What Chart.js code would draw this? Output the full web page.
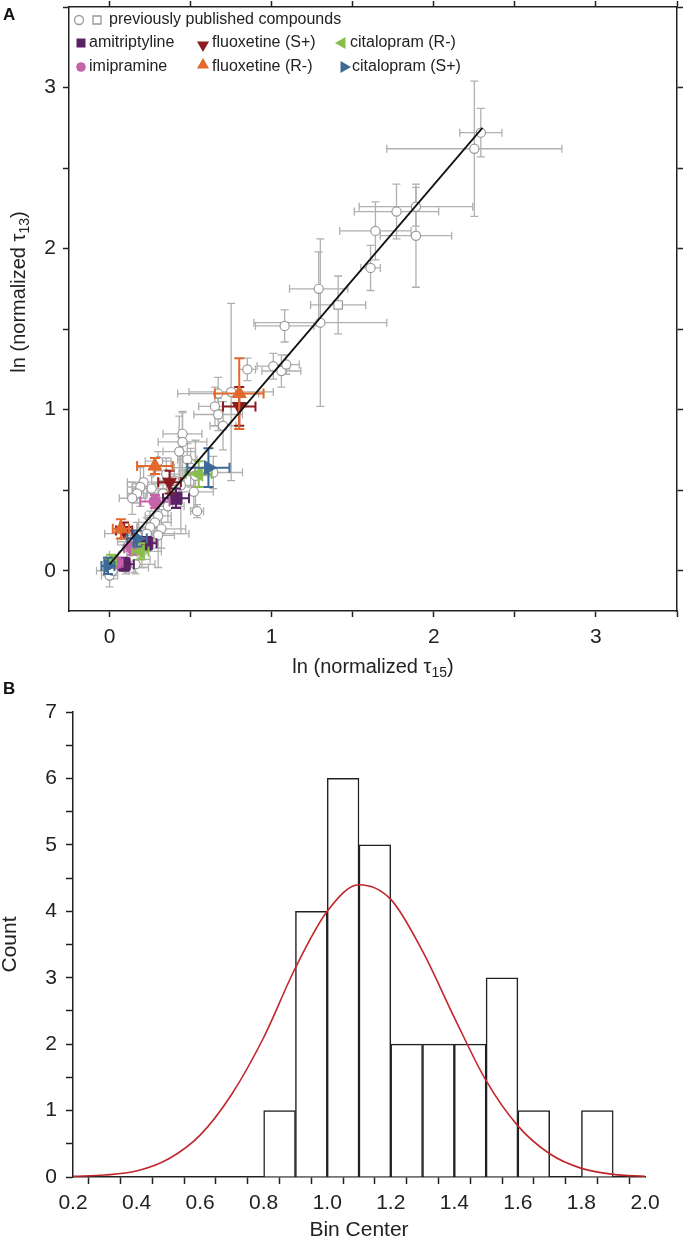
<!DOCTYPE html>
<html>
<head>
<meta charset="utf-8">
<script src="https://cdn.jsdelivr.net/npm/chart.js"></script>
<style>
  body { margin: 0; background: #fff; }
  .wrap { position: absolute; left: 0; }
  .tag { position: absolute; left: 3px; font: bold 17px "Liberation Sans", Arial, sans-serif; color: #111; }
</style>
</head>
<body>
<div class="wrap" style="top:0"><canvas id="chartA" width="683" height="680"></canvas></div>
<div class="wrap" style="top:680px"><canvas id="chartB" width="683" height="561"></canvas></div>
<div class="tag" style="top:5px">A</div>
<div class="tag" style="top:679px">B</div>
<script>
// each row: [ln tau15, ln tau13, x error, y error]
const publishedCircles = [
  [2.29, 2.72, 0.13, 0.15], [2.25, 2.62, 0.54, 0.42], [1.89, 2.26, 0.35, 0.12],
  [1.77, 2.23, 0.26, 0.17], [1.64, 2.11, 0.22, 0.18], [1.89, 2.08, 0.22, 0.32],
  [1.61, 1.88, 0.06, 0.14], [1.29, 1.75, 0.18, 0.23], [1.30, 1.54, 0.41, 0.52],
  [1.08, 1.52, 0.18, 0.10], [1.01, 1.27, 0.10, 0.08], [1.06, 1.24, 0.12, 0.10],
  [1.09, 1.28, 0.08, 0.06], [0.85, 1.25, 0.05, 0.07], [0.75, 1.11, 0.26, 0.55],
  [0.67, 1.10, 0.25, 0.10], [0.65, 1.02, 0.10, 0.12], [0.67, 0.97, 0.15, 0.10],
  [0.70, 0.90, 0.08, 0.15], [0.45, 0.85, 0.12, 0.14], [0.45, 0.80, 0.15, 0.18],
  [0.64, 0.61, 0.18, 0.10], [0.50, 0.64, 0.10, 0.12], [0.53, 0.59, 0.08, 0.22],
  [0.52, 0.49, 0.12, 0.10], [0.21, 0.55, 0.10, 0.10], [0.19, 0.52, 0.08, 0.12],
  [0.26, 0.51, 0.12, 0.08], [0.17, 0.48, 0.06, 0.06], [0.14, 0.45, 0.08, 0.10],
  [0.33, 0.48, 0.10, 0.08], [0.36, 0.40, 0.10, 0.10], [0.30, 0.34, 0.08, 0.20],
  [0.28, 0.30, 0.10, 0.12], [0.25, 0.27, 0.08, 0.10], [0.32, 0.26, 0.15, 0.12],
  [0.23, 0.23, 0.26, 0.10], [0.17, 0.22, 0.10, 0.08], [0.13, 0.18, 0.08, 0.06],
  [0.20, 0.12, 0.12, 0.10], [0.15, 0.07, 0.10, 0.08], [0.54, 0.37, 0.04, 0.04],
  [0.30, 0.22, 0.10, 0.20], [0.16, 0.04, 0.12, 0.06], [0.00, -0.03, 0.05, 0.07],
  [0.02, 0.00, 0.10, 0.05], [0.30, 0.68, 0.08, 0.06], [0.43, 0.74, 0.10, 0.22],
  [0.35, 0.60, 0.08, 0.10], [0.40, 0.56, 0.06, 0.08], [0.08, 0.10, 0.08, 0.06],
  [0.10, 0.02, 0.14, 0.04], [0.44, 0.53, 0.08, 0.30], [0.48, 0.69, 0.06, 0.10]
];
const publishedSquares = [[1.41, 1.65, 0.17, 0.18]];
const amitriptyline = [[0.09, 0.04, 0.06, 0.04], [0.23, 0.17, 0.06, 0.04], [0.41, 0.45, 0.08, 0.06]];
const imipramine = [[0.04, 0.05, 0.04, 0.03], [0.14, 0.14, 0.05, 0.04], [0.28, 0.43, 0.09, 0.04]];
const fluoxetineS = [[0.09, 0.25, 0.05, 0.05], [0.37, 0.55, 0.07, 0.07], [0.80, 1.02, 0.10, 0.12]];
const fluoxetineR = [[0.07, 0.26, 0.05, 0.06], [0.28, 0.65, 0.11, 0.05], [0.80, 1.10, 0.15, 0.22]];
const citalopramR = [[0.01, 0.06, 0.03, 0.04], [0.19, 0.12, 0.05, 0.05], [0.55, 0.60, 0.08, 0.08]];
const citalopramS = [[-0.01, 0.03, 0.04, 0.05], [0.17, 0.20, 0.06, 0.05], [0.61, 0.64, 0.13, 0.12]];
const fitX = [0, 2.3];
const fitY = [0.04, 2.75];

// histogram (panel B)
const binCenters = [0.85, 0.95, 1.05, 1.15, 1.25, 1.35, 1.45, 1.55, 1.65, 1.75, 1.85];
const binCounts = [1, 4, 6, 5, 2, 2, 2, 3, 1, 0, 1];
const curveX = [0.2, 0.3, 0.4, 0.5, 0.6, 0.7, 0.8, 0.9, 1.0, 1.1, 1.2, 1.3, 1.4, 1.5, 1.6, 1.7, 1.8, 1.9, 2.0];
const curveY = [0.01, 0.03, 0.09, 0.27, 0.63, 1.25, 2.1, 3.15, 4.0, 4.4, 4.18, 3.4, 2.4, 1.45, 0.77, 0.35, 0.13, 0.04, 0.01];

const FONT = '"Liberation Sans", Arial, sans-serif';
const INK = '#222';

const errorBars = {
  id: 'errorBars',
  beforeDatasetDraw(chart, args) {
    const ds = chart.data.datasets[args.index];
    if (!ds.errors) return;
    const xs = chart.scales.x, ys = chart.scales.y, ctx = chart.ctx, c = ds.capSize;
    ctx.save();
    ctx.strokeStyle = ds.errColor;
    ctx.lineWidth = ds.errWidth;
    ds.errors.forEach(([x, y, xe, ye]) => {
      const px = xs.getPixelForValue(x), py = ys.getPixelForValue(y);
      const x0 = xs.getPixelForValue(x - xe), x1 = xs.getPixelForValue(x + xe);
      const y0 = ys.getPixelForValue(y - ye), y1 = ys.getPixelForValue(y + ye);
      ctx.beginPath();
      ctx.moveTo(x0, py); ctx.lineTo(x1, py);
      ctx.moveTo(x0, py - c); ctx.lineTo(x0, py + c);
      ctx.moveTo(x1, py - c); ctx.lineTo(x1, py + c);
      ctx.moveTo(px, y0); ctx.lineTo(px, y1);
      ctx.moveTo(px - c, y0); ctx.lineTo(px + c, y0);
      ctx.moveTo(px - c, y1); ctx.lineTo(px + c, y1);
      ctx.stroke();
    });
    ctx.restore();
  }
};

function shape(ctx, kind, x, y, r, fill, stroke) {
  ctx.beginPath();
  if (kind === 'circle') ctx.arc(x, y, r, 0, Math.PI * 2);
  else if (kind === 'rect') ctx.rect(x - r, y - r, 2 * r, 2 * r);
  else {
    const rot = { up: -90, down: 90, left: 180, right: 0 }[kind] * Math.PI / 180;
    for (let k = 0; k < 3; k++) {
      const a = rot + k * 2 * Math.PI / 3;
      ctx[k ? 'lineTo' : 'moveTo'](x + r * Math.cos(a), y + r * Math.sin(a));
    }
    ctx.closePath();
  }
  if (fill) { ctx.fillStyle = fill; ctx.fill(); }
  if (stroke) { ctx.strokeStyle = stroke; ctx.lineWidth = 1.3; ctx.stroke(); }
}

const legendA = {
  id: 'legendA',
  afterDraw(chart) {
    const ctx = chart.ctx;
    ctx.save();
    ctx.font = '16px ' + FONT;
    ctx.fillStyle = INK;
    ctx.textBaseline = 'middle';
    shape(ctx, 'circle', 79, 20, 4.5, '#fff', '#999');
    shape(ctx, 'rect', 97, 20, 4, '#fff', '#999');
    ctx.fillStyle = INK; ctx.fillText('previously published compounds', 109, 20);
    const items = [
      ['rect', '#5a2265', 81, 43, 4.5, 'amitriptyline', 89],
      ['down', '#8c1c1f', 203, 45, 7, 'fluoxetine (S+)', 212],
      ['left', '#8bbd4c', 342, 43, 7, 'citalopram (R-)', 350],
      ['circle', '#c463a9', 81, 67, 4.8, 'imipramine', 89],
      ['up', '#e2682b', 203, 65, 7, 'fluoxetine (R-)', 212],
      ['right', '#3d6a98', 344, 67, 7, 'citalopram (S+)', 352]
    ];
    items.forEach(([k, col, x, y, r, label, tx]) => {
      shape(ctx, k, x, y, r, col, null);
      ctx.fillStyle = INK;
      ctx.fillText(label, tx, k === 'down' ? 43 : (k === 'up' ? 67 : y));
    });
    ctx.restore();
  }
};

function subTitle(ctx, main, sub, x, y, rotate) {
  ctx.save();
  ctx.translate(x, y);
  if (rotate) ctx.rotate(-Math.PI / 2);
  ctx.fillStyle = INK;
  ctx.textBaseline = 'middle';
  const big = '20px ' + FONT, small = '14px ' + FONT;
  ctx.font = big; const w1 = ctx.measureText(main).width, w3 = ctx.measureText(')').width;
  ctx.font = small; const w2 = ctx.measureText(sub).width;
  let cx = -(w1 + w2 + w3) / 2;
  ctx.font = big; ctx.fillText(main, cx, 0); cx += w1;
  ctx.font = small; ctx.fillText(sub, cx, 6); cx += w2;
  ctx.font = big; ctx.fillText(')', cx, 0);
  ctx.restore();
}

const titlesA = {
  id: 'titlesA',
  afterDraw(chart) {
    subTitle(chart.ctx, 'ln (normalized \u03c4', '15', 373, 667, false);
    subTitle(chart.ctx, 'ln (normalized \u03c4', '13', 19, 292, true);
  }
};

const halfSteps = (axis) => {
  axis.ticks = axis.ticks.filter(t => Math.abs(t.value * 2 - Math.round(t.value * 2)) < 1e-6);
};
// fixed axis box sizes so the plot area lands where the reference has it
function fixSize(horiz, size) {
  return (a) => {
    if (horiz) a.height = size; else a.width = size;
    a.paddingTop = a.paddingBottom = a.paddingLeft = a.paddingRight = 0;
  };
}
function axisA(pos, labels, size) {
  const horiz = pos === 'top' || pos === 'bottom';
  return {
    type: 'linear', position: pos, min: -0.25, max: 3.5,
    afterBuildTicks: halfSteps,
    afterFit: fixSize(horiz, size),
    border: { display: true, color: INK, width: 1.5 },
    grid: { display: true, drawOnChartArea: false, drawTicks: true, tickLength: 6, tickColor: INK, tickWidth: 1.5 },
    ticks: {
      stepSize: 0.5, includeBounds: false, padding: horiz ? 8 : 7, color: INK, maxRotation: 0, autoSkip: false,
      font: { family: FONT, size: 21 },
      callback: (v) => labels && Math.abs(v - Math.round(v)) < 1e-6 ? String(Math.round(v)) : ''
    }
  };
}

const pts = (rows) => rows.map(r => ({ x: r[0], y: r[1] }));
function drug(label, rows, color, style, rotation, radius) {
  return {
    label, data: pts(rows), errors: rows, errColor: color, errWidth: 2, capSize: 5,
    pointStyle: style, rotation, pointRadius: radius, pointBackgroundColor: color,
    pointBorderColor: color, pointBorderWidth: 1, showLine: false
  };
}

new Chart(document.getElementById('chartA'), {
  type: 'scatter',
  data: {
    datasets: [
      { type: 'line', label: 'fit', data: fitX.map((x, i) => ({ x, y: fitY[i] })), borderColor: '#111',
        borderWidth: 1.8, pointRadius: 0, showLine: true, fill: false },
      drug('citalopram (S+)', citalopramS, '#3d6a98', 'triangle', 90, 8),
      drug('citalopram (R-)', citalopramR, '#8bbd4c', 'triangle', -90, 8),
      drug('fluoxetine (R-)', fluoxetineR, '#e2682b', 'triangle', 0, 8),
      drug('fluoxetine (S+)', fluoxetineS, '#8c1c1f', 'triangle', 180, 8),
      drug('imipramine', imipramine, '#c463a9', 'circle', 0, 6),
      drug('amitriptyline', amitriptyline, '#5a2265', 'rect', 0, 8.5),
      { label: 'published (square)', data: pts(publishedSquares), errors: publishedSquares, errColor: '#b0b0b0',
        errWidth: 1.3, capSize: 4, pointStyle: 'rect', pointRadius: 6, pointBackgroundColor: '#fff',
        pointBorderColor: '#9a9a9a', pointBorderWidth: 1.2 },
      { label: 'published', data: pts(publishedCircles), errors: publishedCircles, errColor: '#b0b0b0',
        errWidth: 1.3, capSize: 4, pointStyle: 'circle', pointRadius: 4.6, pointBackgroundColor: '#fff',
        pointBorderColor: '#9a9a9a', pointBorderWidth: 1.2 }
    ]
  },
  options: {
    responsive: false, animation: false,
    layout: { padding: 0, autoPadding: false },
    plugins: { legend: { display: false }, tooltip: { enabled: false } },
    scales: {
      x: axisA('bottom', true, 69),
      x2: axisA('top', false, 7),
      y: axisA('left', true, 69),
      y2: axisA('right', false, 6)
    }
  },
  plugins: [errorBars, legendA, titlesA]
});

new Chart(document.getElementById('chartB'), {
  type: 'bar',
  data: {
    datasets: [
      { type: 'line', label: 'fit', data: curveX.map((x, i) => ({ x, y: curveY[i] })), borderColor: '#c0272d',
        borderWidth: 1.6, pointRadius: 0, tension: 0.4, cubicInterpolationMode: 'monotone', fill: false, order: 0 },
      { type: 'bar', label: 'Count', data: binCenters.map((x, i) => ({ x, y: binCounts[i] })),
        backgroundColor: '#fff', borderColor: INK, borderWidth: 1.5, barPercentage: 1, categoryPercentage: 1, order: 1 }
    ]
  },
  options: {
    responsive: false, animation: false,
    layout: { padding: { top: 32, right: 38, left: 0, bottom: 0 }, autoPadding: false },
    plugins: { legend: { display: false }, tooltip: { enabled: false } },
    scales: {
      x: {
        type: 'linear', min: 0.2, max: 2.0, offset: false,
        afterFit: fixSize(true, 64),
        border: { display: true, color: INK, width: 1.5 },
        grid: { display: true, drawOnChartArea: false, tickLength: 7, tickColor: INK, tickWidth: 1.5 },
        ticks: {
          stepSize: 0.1, padding: 7, color: INK, maxRotation: 0, autoSkip: false,
          font: { family: FONT, size: 21 },
          callback: (v) => Math.round(v * 10) % 2 === 0 ? v.toFixed(1) : ''
        },
        title: { display: true, text: 'Bin Center', color: INK, padding: 0, font: { family: FONT, size: 21, lineHeight: 1 } }
      },
      y: {
        min: 0, max: 7,
        afterFit: fixSize(false, 73),
        border: { display: true, color: INK, width: 1.5 },
        grid: { display: true, drawOnChartArea: false, tickLength: 7, tickColor: INK, tickWidth: 1.5 },
        ticks: {
          stepSize: 0.5, padding: 9, color: INK, autoSkip: false,
          font: { family: FONT, size: 21 },
          callback: (v) => Number.isInteger(v) ? String(v) : ''
        },
        title: { display: true, text: 'Count', color: INK, padding: 0, font: { family: FONT, size: 21, lineHeight: 1 } }
      }
    }
  }
});
</script>
</body>
</html>
